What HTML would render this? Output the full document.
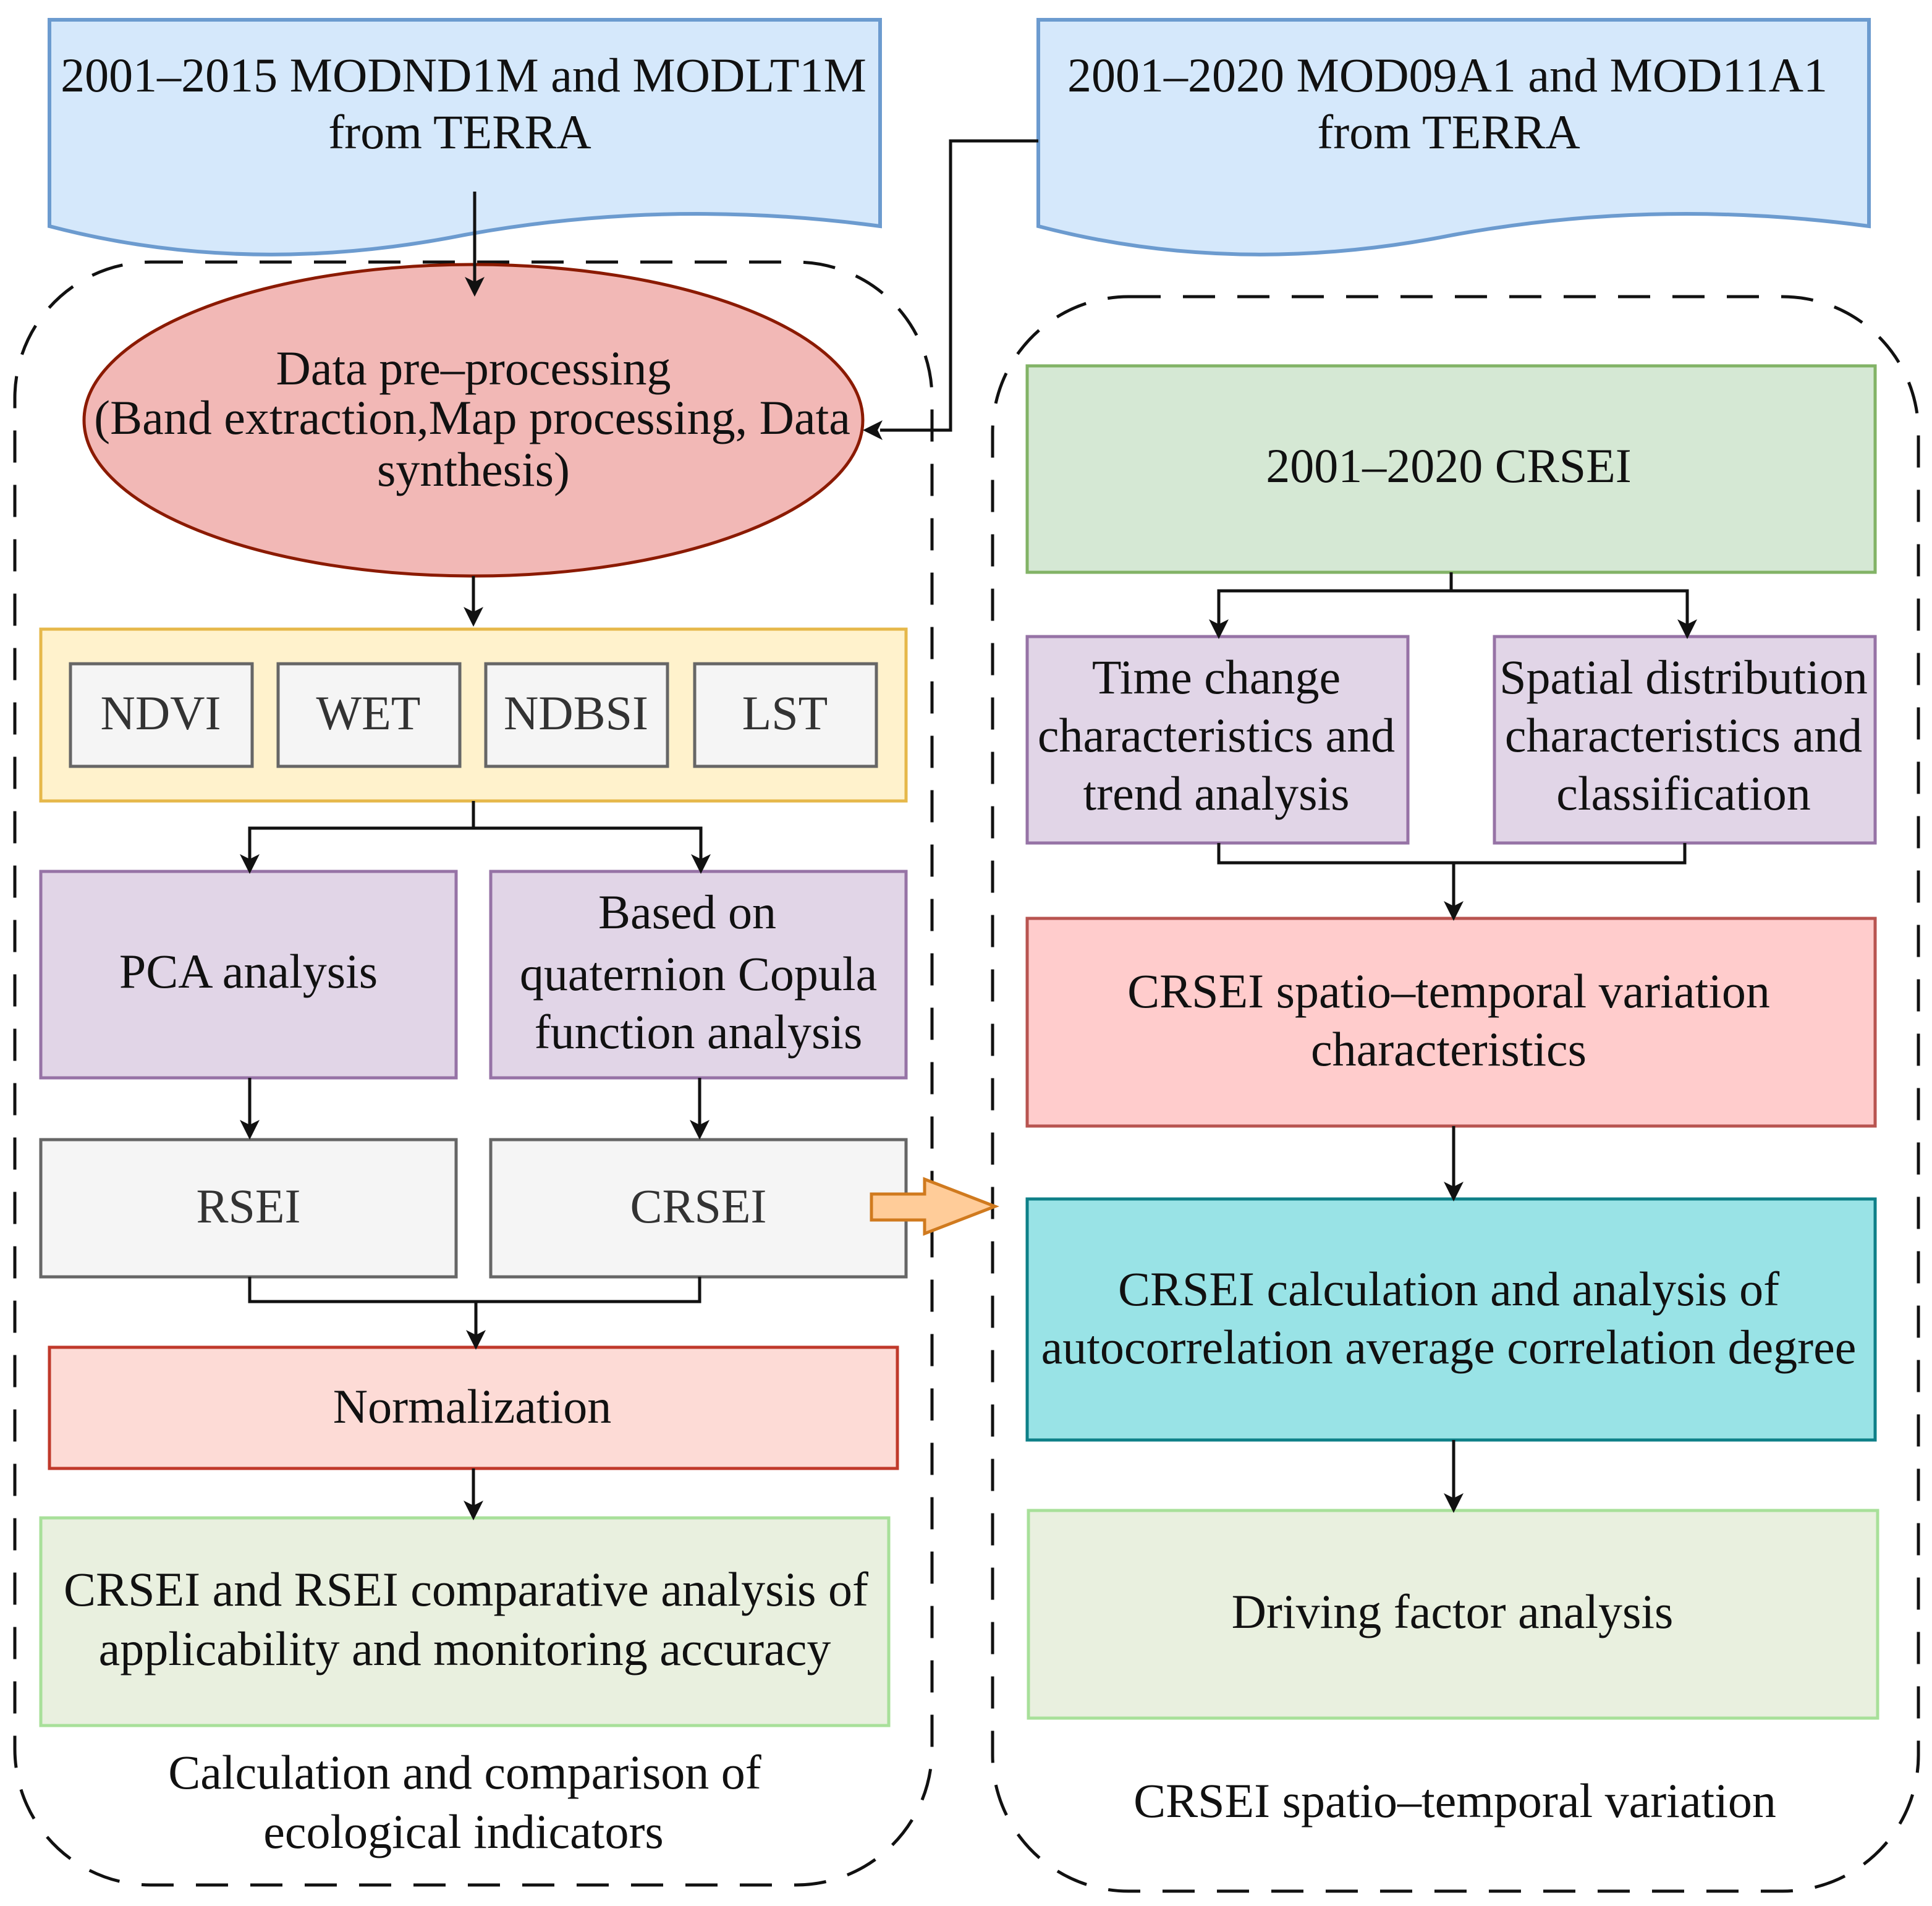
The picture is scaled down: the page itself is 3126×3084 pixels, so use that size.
<!DOCTYPE html>
<html><head><meta charset="utf-8"><style>
html,body{margin:0;padding:0;background:#fff}
svg{display:block}
text{font-family:"Liberation Serif",serif;font-size:39px;fill:#111;text-anchor:middle}
</style></head><body>
<svg width="3126" height="3084" viewBox="0 0 1563 1542" xmlns="http://www.w3.org/2000/svg">
<path d="M40,16 H712 V183 Q540,160 376,190 Q200,225 40,183 Z" fill="#d5e8fb" stroke="#6c9bcf" stroke-width="3"/>
<path d="M840,16 H1512 V183 Q1340,160 1176,190 Q1000,225 840,183 Z" fill="#d5e8fb" stroke="#6c9bcf" stroke-width="3"/>
<text x="375" y="74">2001–2015 MODND1M and MODLT1M</text>
<text x="372" y="120">from TERRA</text>
<text x="1171" y="74">2001–2020 MOD09A1 and MOD11A1</text>
<text x="1172" y="120">from TERRA</text>
<rect x="12" y="212" width="742" height="1313" rx="110" fill="none" stroke="#111" stroke-width="2.5" stroke-dasharray="26,18"/>
<rect x="803" y="240" width="749" height="1290" rx="110" fill="none" stroke="#111" stroke-width="2.5" stroke-dasharray="26,18"/>
<ellipse cx="383" cy="340" rx="315" ry="126" fill="#f2b8b6" stroke="#8b1a00" stroke-width="2.5"/>
<text x="383" y="311">Data pre–processing</text>
<text x="382" y="351">(Band extraction,Map processing, Data</text>
<text x="383" y="393">synthesis)</text>
<rect x="33" y="509" width="700" height="139" fill="#fff2cc" stroke="#e6b84a" stroke-width="2.5"/>
<g fill="#f5f5f5" stroke="#666" stroke-width="2.5">
<rect x="57" y="537" width="147" height="83"/><rect x="225" y="537" width="147" height="83"/>
<rect x="393" y="537" width="147" height="83"/><rect x="562" y="537" width="147" height="83"/></g>
<text x="130" y="590" style="fill:#333">NDVI</text><text x="298" y="590" style="fill:#333">WET</text><text x="466" y="590" style="fill:#333">NDBSI</text><text x="635" y="590" style="fill:#333">LST</text>
<rect x="33" y="705" width="336" height="167" fill="#e1d5e7" stroke="#9673a6" stroke-width="2.5"/>
<rect x="397" y="705" width="336" height="167" fill="#e1d5e7" stroke="#9673a6" stroke-width="2.5"/>
<text x="201" y="799">PCA analysis</text>
<text x="556" y="751">Based on</text>
<text x="565" y="801">quaternion Copula</text>
<text x="565" y="848">function analysis</text>
<rect x="33" y="922" width="336" height="111" fill="#f5f5f5" stroke="#666" stroke-width="2.5"/>
<rect x="397" y="922" width="336" height="111" fill="#f5f5f5" stroke="#666" stroke-width="2.5"/>
<text x="201" y="989" style="fill:#333">RSEI</text>
<text x="565" y="989" style="fill:#333">CRSEI</text>
<rect x="40" y="1090" width="686" height="98" fill="#fddbd6" stroke="#c0392b" stroke-width="2.5"/>
<text x="382" y="1151">Normalization</text>
<rect x="33" y="1228" width="686" height="168" fill="#e9f0df" stroke="#a8e09a" stroke-width="2.5"/>
<text x="377" y="1299">CRSEI and RSEI comparative analysis of</text>
<text x="376" y="1347">applicability and monitoring accuracy</text>
<text x="376" y="1447">Calculation and comparison of</text>
<text x="375" y="1495">ecological indicators</text>
<rect x="831" y="296" width="686" height="167" fill="#d5e8d4" stroke="#82b366" stroke-width="2.5"/>
<text x="1172" y="390">2001–2020 CRSEI</text>
<rect x="831" y="515" width="308" height="167" fill="#e1d5e7" stroke="#9673a6" stroke-width="2.5"/>
<rect x="1209" y="515" width="308" height="167" fill="#e1d5e7" stroke="#9673a6" stroke-width="2.5"/>
<text x="984" y="561">Time change</text>
<text x="984" y="608">characteristics and</text>
<text x="984" y="655">trend analysis</text>
<text x="1362" y="561">Spatial distribution</text>
<text x="1362" y="608">characteristics and</text>
<text x="1362" y="655">classification</text>
<rect x="831" y="743" width="686" height="168" fill="#ffcccc" stroke="#b85450" stroke-width="2.5"/>
<text x="1172" y="815">CRSEI spatio–temporal variation</text>
<text x="1172" y="862">characteristics</text>
<rect x="831" y="970" width="686" height="195" fill="#99e3e6" stroke="#0e8088" stroke-width="2.5"/>
<text x="1172" y="1056">CRSEI calculation and analysis of</text>
<text x="1172" y="1103">autocorrelation average correlation degree</text>
<rect x="832" y="1222" width="687" height="168" fill="#e9f0df" stroke="#a8e09a" stroke-width="2.5"/>
<text x="1175" y="1317">Driving factor analysis</text>
<text x="1177" y="1470">CRSEI spatio–temporal variation</text>
<path d="M705,966 H748 V954 L805,976 L748,998 V987 H705 Z" fill="#ffcc99" stroke="#d07a1e" stroke-width="2.5"/>
<g fill="none" stroke="#111" stroke-width="2.5">
<path d="M384,155 V228"/>
<path d="M840,114 H769 V348 H712"/>
<path d="M383,466 V495"/>
<path d="M383,648 V670 M202,695 V670 H567 V695"/>
<path d="M202,872 V910 M566,872 V910"/>
<path d="M202,1033 V1053 H566 V1033 M385,1053 V1080"/>
<path d="M383,1188 V1218"/>
<path d="M1174,463 V478 M986,505 V478 H1365 V505"/>
<path d="M986,682 V698 H1363 V682 M1176,698 V733"/>
<path d="M1176,911 V960 M1176,1165 V1212"/>
</g>
<g fill="#111">
<path d="M376,224 L384,240 L392,224 L384,228 Z"/>
<path d="M714,340 L698,348 L714,356 L710,348 Z"/>
<path d="M375,491 L383,507 L391,491 L383,495 Z"/>
<path d="M194,691 L202,707 L210,691 L202,695 Z"/>
<path d="M559,691 L567,707 L575,691 L567,695 Z"/>
<path d="M194,906 L202,922 L210,906 L202,910 Z"/>
<path d="M558,906 L566,922 L574,906 L566,910 Z"/>
<path d="M377,1076 L385,1092 L393,1076 L385,1080 Z"/>
<path d="M375,1214 L383,1230 L391,1214 L383,1218 Z"/>
<path d="M978,501 L986,517 L994,501 L986,505 Z"/>
<path d="M1357,501 L1365,517 L1373,501 L1365,505 Z"/>
<path d="M1168,729 L1176,745 L1184,729 L1176,733 Z"/>
<path d="M1168,956 L1176,972 L1184,956 L1176,960 Z"/>
<path d="M1168,1208 L1176,1224 L1184,1208 L1176,1212 Z"/>
</g>
</svg>
</body></html>
